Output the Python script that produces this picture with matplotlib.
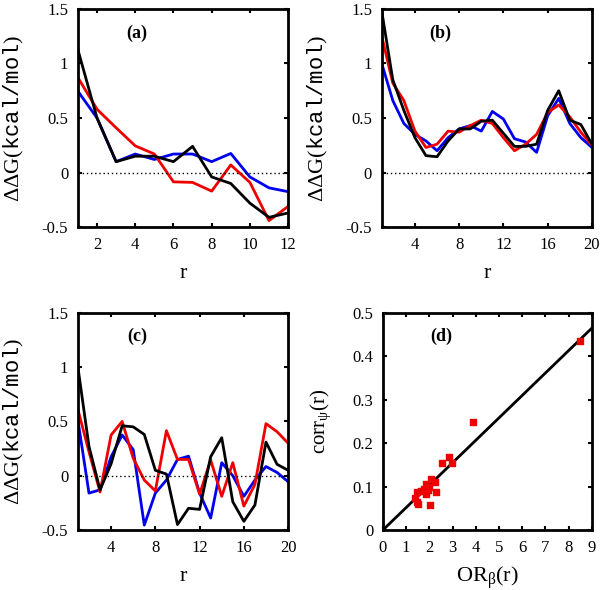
import matplotlib
matplotlib.use("Agg")
import matplotlib.pyplot as plt
from matplotlib.ticker import FuncFormatter

plt.rcParams['font.family'] = ['Liberation Serif', 'DejaVu Serif']
plt.rcParams['mathtext.fontset'] = 'custom'
plt.rcParams['mathtext.rm'] = 'Liberation Serif'
plt.rcParams['mathtext.it'] = 'Liberation Serif'
plt.rcParams['mathtext.tt'] = 'Liberation Mono'
plt.rcParams['axes.unicode_minus'] = False

# panel (a)
r_a = list(range(1, 13))
a_blue = [0.745, 0.50, 0.10, 0.17, 0.12, 0.17, 0.17, 0.10, 0.175, -0.04, -0.14, -0.175]
a_red = [0.87, 0.58, 0.41, 0.245, 0.17, -0.085, -0.09, -0.17, 0.07, -0.09, -0.44, -0.31]
a_black = [1.125, 0.50, 0.10, 0.15, 0.15, 0.10, 0.24, -0.04, -0.10, -0.28, -0.41, -0.37]

# panel (b)
r_b = list(range(1, 21))
b_blue = [1.0, 0.66, 0.45, 0.35, 0.29, 0.20, 0.32, 0.40, 0.43, 0.38,
          0.56, 0.49, 0.31, 0.28, 0.185, 0.52, 0.68, 0.45, 0.32, 0.23]
b_red = [1.25, 0.82, 0.66, 0.38, 0.23, 0.26, 0.38, 0.37, 0.43, 0.48,
         0.45, 0.32, 0.20, 0.26, 0.35, 0.55, 0.62, 0.51, 0.37, 0.25]
b_black = [1.48, 0.85, 0.57, 0.32, 0.155, 0.145, 0.29, 0.40, 0.40, 0.47,
           0.48, 0.36, 0.24, 0.24, 0.26, 0.57, 0.75, 0.48, 0.44, 0.26]

# panel (c)
r_c = list(range(1, 21))
c_blue = [0.51, -0.16, -0.13, 0.175, 0.375, 0.24, -0.455, -0.16, -0.04, 0.15,
          0.18, -0.16, -0.39, 0.12, 0.0, -0.19, -0.04, 0.085, 0.03, -0.055]
c_red = [0.61, 0.22, -0.15, 0.375, 0.50, 0.16, -0.04, -0.14, 0.415, 0.15,
         0.15, -0.17, 0.145, -0.19, 0.12, -0.28, -0.08, 0.48, 0.405, 0.30]
c_black = [1.0, 0.27, -0.13, 0.11, 0.46, 0.45, 0.38, 0.05, 0.015, -0.45,
           -0.30, -0.31, 0.175, 0.35, -0.24, -0.42, -0.27, 0.31, 0.105, 0.05]

# panel (d)
or_beta = [8.49, 3.90, 2.85, 2.96, 2.53, 2.07, 2.24, 1.85, 2.28, 1.45,
           1.84, 1.38, 1.52, 2.03, 1.92, 1.62, 1.46, 1.75, 1.98]
corr_psi = [0.435, 0.248, 0.167, 0.154, 0.154, 0.117, 0.111, 0.105, 0.088, 0.088,
            0.082, 0.073, 0.061, 0.058, 0.092, 0.090, 0.065, 0.095, 0.100]
fit_x = [0, 9]
fit_y = [0, 0.465]

fig = plt.figure(figsize=(6.04, 5.90), dpi=100)
ax_a = fig.add_axes([0.129, 0.615, 0.348, 0.370])
ax_b = fig.add_axes([0.632, 0.615, 0.348, 0.370])
ax_c = fig.add_axes([0.129, 0.1017, 0.348, 0.368])
ax_d = fig.add_axes([0.634, 0.1017, 0.346, 0.368])

ylab = r'$\Delta\Delta$G($\mathtt{kcal/mol}$)'
fmt = FuncFormatter(lambda v, p: '%g' % v)


def style(ax):
    for s in ax.spines.values():
        s.set_linewidth(2)
    ax.tick_params(direction='in', top=True, right=True, length=3, width=1.5,
                   labelsize=12, pad=7)


def dg_panel(ax, r, blue, red, black, xmax, xticks, tag):
    ax.plot(r, blue, color='#0000ee', lw=2)
    ax.plot(r, red, color='#ee0000', lw=2)
    ax.plot(r, black, color='black', lw=2)
    ax.axhline(0, color='black', lw=1, ls=(0, (1, 2)))
    ax.set_xlim(1, xmax)
    ax.set_ylim(-0.5, 1.5)
    ax.set_xticks(xticks)
    ax.set_yticks([-0.5, 0, 0.5, 1, 1.5])
    ax.yaxis.set_major_formatter(fmt)
    ax.set_xlabel('r', fontsize=16, labelpad=8)
    ax.set_ylabel(ylab, fontsize=16, labelpad=11)
    ax.text(0.28, 0.89, tag, transform=ax.transAxes, fontsize=13,
            fontweight='bold', ha='center', va='center')
    style(ax)


dg_panel(ax_a, r_a, a_blue, a_red, a_black, 12, [2, 4, 6, 8, 10, 12], '(a)')
dg_panel(ax_b, r_b, b_blue, b_red, b_black, 20, [4, 8, 12, 16, 20], '(b)')
dg_panel(ax_c, r_c, c_blue, c_red, c_black, 20, [4, 8, 12, 16, 20], '(c)')

ax_d.plot(fit_x, fit_y, color='black', lw=2)
ax_d.scatter(or_beta, corr_psi, marker='s', s=22, color='#ee0000', zorder=3)
ax_d.set_xlim(0, 9)
ax_d.set_ylim(0, 0.5)
ax_d.set_xticks(range(0, 10))
ax_d.set_yticks([0, 0.1, 0.2, 0.3, 0.4, 0.5])
ax_d.yaxis.set_major_formatter(fmt)
ax_d.set_xlabel(r'OR$_{\beta}$(r)', fontsize=16, labelpad=6)
ax_d.set_ylabel(r'corr$_{\psi}$(r)', fontsize=15, labelpad=14)
ax_d.text(0.28, 0.89, '(d)', transform=ax_d.transAxes, fontsize=13,
          fontweight='bold', ha='center', va='center')
style(ax_d)

fig.savefig('out.png', dpi=100)
